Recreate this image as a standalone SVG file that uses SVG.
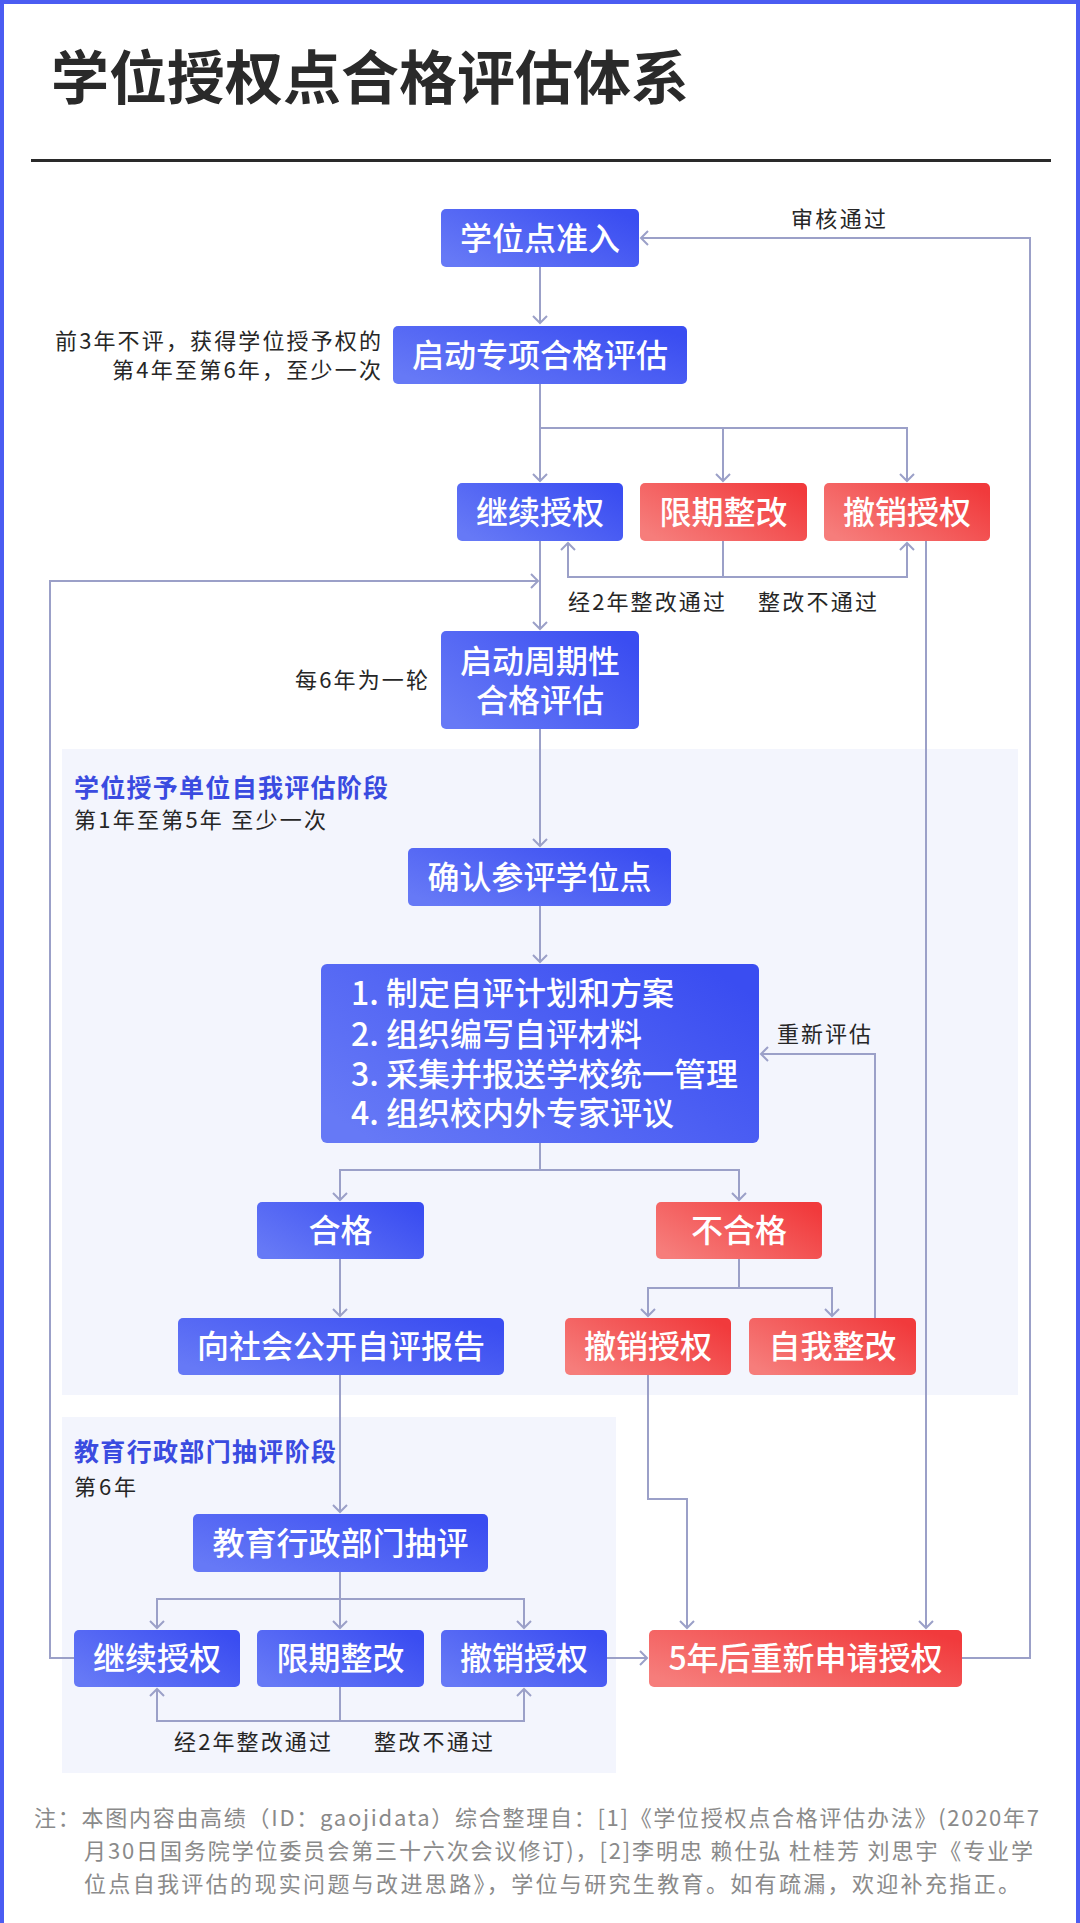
<svg xmlns="http://www.w3.org/2000/svg" width="1080" height="1923" viewBox="0 0 1080 1923">
<defs>
<linearGradient id="gb" x1="0" y1="0.8" x2="1" y2="0.2">
<stop offset="0" stop-color="#6679f6"/>
<stop offset="1" stop-color="#3a4df1"/>
</linearGradient>
<linearGradient id="gr" x1="0" y1="0.8" x2="1" y2="0.2">
<stop offset="0" stop-color="#f67d7b"/>
<stop offset="1" stop-color="#f13a3c"/>
</linearGradient>
<marker id="ah" viewBox="-10 -9 12 18" refX="0" refY="0" markerWidth="12" markerHeight="18" markerUnits="userSpaceOnUse" orient="auto">
<path d="M-7 -7 L0 0 L-7 7" fill="none" stroke="#9ba0c8" stroke-width="2"/>
</marker>
<style>
text{font-family:"Noto Sans CJK SC","Noto Sans",sans-serif;}
.nb{fill:url(#gb);}
.nr{fill:url(#gr);}
.nt{fill:#ffffff;font-size:32px;font-weight:500;text-anchor:middle;}
.lb{fill:#262626;font-size:22px;}
.sh{fill:#3a4be0;font-size:25px;font-weight:700;}
.fn{fill:#8a8a8a;font-size:22px;}
.cn path{fill:none;stroke:#9ba0c8;stroke-width:2;}
.ar{marker-end:url(#ah);}
</style>
</defs>
<rect x="0" y="0" width="1080" height="1923" fill="#ffffff"/>
<rect x="0" y="0" width="1080" height="4" fill="#4b5cf2"/>
<rect x="0" y="0" width="4" height="1923" fill="#4b5cf2"/>
<rect x="1076" y="0" width="4" height="1923" fill="#4b5cf2"/>
<g id="title">
<text x="51" y="99" style="font-size:58px;font-weight:700;fill:#2a2a2a;">学位授权点合格评估体系</text>
<rect x="31" y="159" width="1020" height="3" fill="#2a2a2a"/>
</g>
<g id="sections">
<rect x="62" y="749" width="956" height="646" fill="#f3f5fd"/>
<rect x="62" y="1417" width="554" height="356" fill="#f3f5fd"/>
</g>
<g id="connectors" class="cn">
<path class="ar" d="M540 267 V323"/>
<path class="ar" d="M540 384 V481"/>
<path class="ar" d="M540 428 H723 V481"/>
<path class="ar" d="M723 428 H907 V481"/>
<path class="ar" d="M723 541 V577 H568 V543"/>
<path class="ar" d="M723 577 H907 V543"/>
<path class="ar" d="M540 541 V629"/>
<path class="ar" d="M74 1658 H50 V581 H538"/>
<path class="ar" d="M962 1658 H1030 V238 H641"/>
<path class="ar" d="M926 541 V1628"/>
<path class="ar" d="M540 729 V846"/>
<path class="ar" d="M540 906 V962"/>
<path class="ar" d="M540 1143 V1170 H340 V1200"/>
<path class="ar" d="M540 1170 H739 V1200"/>
<path class="ar" d="M340 1259 V1316"/>
<path class="ar" d="M739 1259 V1288 H648 V1316"/>
<path class="ar" d="M739 1288 H832 V1316"/>
<path class="ar" d="M875 1318 V1054 H761"/>
<path class="ar" d="M340 1375 V1512"/>
<path class="ar" d="M648 1375 V1499 H687 V1628"/>
<path class="ar" d="M340 1572 V1599 H157 V1628"/>
<path class="ar" d="M340 1599 V1628"/>
<path class="ar" d="M340 1599 H524 V1628"/>
<path class="ar" d="M340 1687 V1721 H157 V1689"/>
<path class="ar" d="M340 1721 H524 V1689"/>
<path class="ar" d="M607 1658 H647"/>
</g>
<g id="labels">
<text class="lb" x="791" y="227" textLength="95">审核通过</text>
<text class="lb" x="381" y="349" text-anchor="end" textLength="326">前3年不评，获得学位授予权的</text>
<text class="lb" x="381" y="378" text-anchor="end" textLength="269">第4年至第6年，至少一次</text>
<text class="lb" x="568" y="610" textLength="157">经2年整改通过</text>
<text class="lb" x="758" y="610" textLength="119">整改不通过</text>
<text class="lb" x="428" y="688" text-anchor="end" textLength="133">每6年为一轮</text>
<text class="sh" x="74" y="797" textLength="314">学位授予单位自我评估阶段</text>
<text class="lb" x="74" y="828" textLength="252">第1年至第5年 至少一次</text>
<text class="lb" x="777" y="1042" textLength="94">重新评估</text>
<text class="sh" x="74" y="1461" textLength="262">教育行政部门抽评阶段</text>
<text class="lb" x="74" y="1495" textLength="62">第6年</text>
<text class="lb" x="174" y="1750" textLength="157">经2年整改通过</text>
<text class="lb" x="374" y="1750" textLength="119">整改不通过</text>
</g>
<g id="n-entry"><rect class="nb" x="441" y="209" width="198" height="58" rx="5"/><text class="nt" x="540" y="250">学位点准入</text></g>
<g id="n-special"><rect class="nb" x="393" y="326" width="294" height="58" rx="5"/><text class="nt" x="540" y="367">启动专项合格评估</text></g>
<g id="n-continue1"><rect class="nb" x="457" y="483" width="166" height="58" rx="5"/><text class="nt" x="540" y="524">继续授权</text></g>
<g id="n-rectify1"><rect class="nr" x="640" y="483" width="167" height="58" rx="5"/><text class="nt" x="723.5" y="524">限期整改</text></g>
<g id="n-revoke1"><rect class="nr" x="824" y="483" width="166" height="58" rx="5"/><text class="nt" x="907" y="524">撤销授权</text></g>
<g id="n-periodic"><rect class="nb" x="441" y="631" width="198" height="98" rx="5"/><text class="nt" x="540" y="673">启动周期性</text><text class="nt" x="540" y="712">合格评估</text></g>
<g id="n-confirm"><rect class="nb" x="408" y="848" width="263" height="58" rx="5"/><text class="nt" x="539.5" y="889">确认参评学位点</text></g>
<g id="n-steps"><rect class="nb" x="321" y="964" width="438" height="179" rx="6"/>
<text class="nt" x="351" y="1005" style="text-anchor:start">1. 制定自评计划和方案</text>
<text class="nt" x="351" y="1046" style="text-anchor:start">2. 组织编写自评材料</text>
<text class="nt" x="351" y="1086" style="text-anchor:start">3. 采集并报送学校统一管理</text>
<text class="nt" x="351" y="1125" style="text-anchor:start">4. 组织校内外专家评议</text>
</g>
<g id="n-pass"><rect class="nb" x="257" y="1202" width="167" height="57" rx="5"/><text class="nt" x="340.5" y="1242">合格</text></g>
<g id="n-fail"><rect class="nr" x="656" y="1202" width="166" height="57" rx="5"/><text class="nt" x="739" y="1242">不合格</text></g>
<g id="n-publish"><rect class="nb" x="178" y="1318" width="326" height="57" rx="5"/><text class="nt" x="341" y="1358">向社会公开自评报告</text></g>
<g id="n-revoke2"><rect class="nr" x="565" y="1318" width="166" height="57" rx="5"/><text class="nt" x="648" y="1358">撤销授权</text></g>
<g id="n-self"><rect class="nr" x="749" y="1318" width="167" height="57" rx="5"/><text class="nt" x="832.5" y="1358">自我整改</text></g>
<g id="n-sample"><rect class="nb" x="193" y="1514" width="295" height="58" rx="5"/><text class="nt" x="340.5" y="1555">教育行政部门抽评</text></g>
<g id="n-continue2"><rect class="nb" x="74" y="1630" width="166" height="57" rx="5"/><text class="nt" x="157" y="1670">继续授权</text></g>
<g id="n-rectify2"><rect class="nb" x="257" y="1630" width="167" height="57" rx="5"/><text class="nt" x="340.5" y="1670">限期整改</text></g>
<g id="n-revoke3"><rect class="nb" x="441" y="1630" width="166" height="57" rx="5"/><text class="nt" x="524" y="1670">撤销授权</text></g>
<g id="n-reapply"><rect class="nr" x="649" y="1630" width="313" height="57" rx="5"/><text class="nt" x="805.5" y="1670">5年后重新申请授权</text></g>
<g id="footnote">
<text class="fn" x="34" y="1826" textLength="1005">注：本图内容由高绩（ID：gaojidata）综合整理自：[1]《学位授权点合格评估办法》(2020年7</text>
<text class="fn" x="84" y="1859" textLength="949">月30日国务院学位委员会第三十六次会议修订)，[2]李明忠 赖仕弘 杜桂芳 刘思宇《专业学</text>
<text class="fn" x="84" y="1892" textLength="936">位点自我评估的现实问题与改进思路》，学位与研究生教育。如有疏漏，欢迎补充指正。</text>
</g>
</svg>
